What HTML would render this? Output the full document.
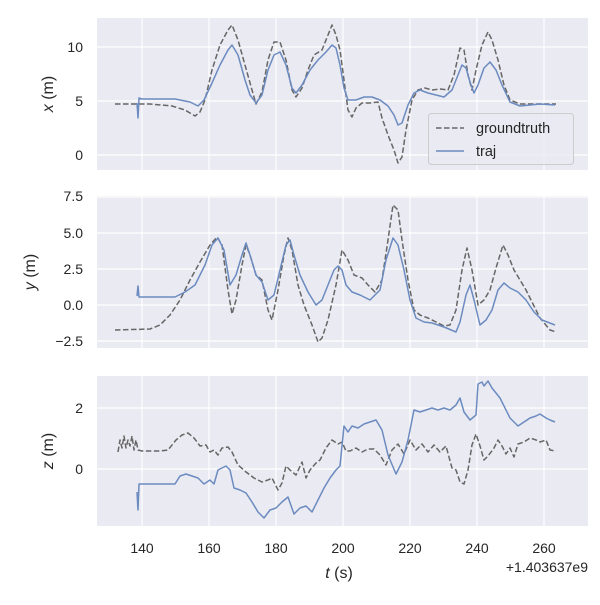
<!DOCTYPE html>
<html><head><meta charset="utf-8"><style>
body{margin:0;background:#fff}
svg text{font-family:"Liberation Sans","DejaVu Sans",sans-serif;fill:#262626}
</style></head><body>
<svg width="600" height="600" xmlns="http://www.w3.org/2000/svg">
<rect width="600" height="600" fill="#fff"/>
<g>
<rect x="97" y="18" width="491" height="152" fill="#eaeaf2"/>
<rect x="97" y="196" width="491" height="152" fill="#eaeaf2"/>
<rect x="97" y="376" width="491" height="150" fill="#eaeaf2"/>
</g>
<g stroke="#fff" stroke-width="1.2">
<path d="M142 18V170M209 18V170M276 18V170M343 18V170M410 18V170M477 18V170M544 18V170"/>
<path d="M142 196V348M209 196V348M276 196V348M343 196V348M410 196V348M477 196V348M544 196V348"/>
<path d="M142 376V526M209 376V526M276 376V526M343 376V526M410 376V526M477 376V526M544 376V526"/>
<path d="M97 47H588M97 101H588M97 155H588"/>
<path d="M97 197H588M97 233H588M97 269H588M97 305H588M97 341H588"/>
<path d="M97 408H588M97 469H588"/>
</g>
<g font-size="14" text-anchor="end">
<text x="83" y="52">10</text><text x="83" y="106">5</text><text x="83" y="160">0</text>
<text x="83" y="201">7.5</text><text x="83" y="238">5.0</text><text x="83" y="274">2.5</text><text x="83" y="310">0.0</text><text x="83" y="346">−2.5</text>
<text x="83" y="413">2</text><text x="83" y="474">0</text>
</g>
<g font-size="14" text-anchor="middle">
<text x="142" y="553">140</text><text x="209" y="553">160</text><text x="276" y="553">180</text><text x="343" y="553">200</text><text x="410" y="553">220</text><text x="477" y="553">240</text><text x="544" y="553">260</text>
<text x="339" y="578" font-size="16"><tspan font-style="italic">t</tspan> (s)</text>
</g>
<text x="588" y="572" font-size="14" text-anchor="end">+1.403637e9</text>
<g font-size="16" text-anchor="middle">
<text transform="translate(53 94) rotate(-90)"><tspan font-style="italic">x</tspan> (m)</text>
<text transform="translate(35 272) rotate(-90)"><tspan font-style="italic">y</tspan> (m)</text>
<text transform="translate(53 451) rotate(-90)"><tspan font-style="italic">z</tspan> (m)</text>
</g>
<g fill="none" stroke-width="1.5" stroke-linejoin="round">
<g stroke="#666" stroke-dasharray="5.5,2.5">
<polyline points="115,104 150,104 172,106 185,110 195,116 200,112 205,100 212,70 220,45 228,30 232,25 238,40 245,65 252,90 256,104 262,92 268,60 274,42 280,42 286,60 292,90 296,97 302,88 308,70 314,55 322,50 328,35 332,25 336,35 340,50 344,80 348,110 352,117 356,108 362,103 370,103 378,102 382,118 388,135 394,150 398,163 402,157 406,130 412,100 418,90 425,88 432,90 440,89 448,90 454,75 460,48 464,50 468,75 472,90 476,70 482,45 488,32 492,40 498,60 504,85 510,100 520,104 540,104 556,104"/>
<polyline points="115,330 150,329 160,325 170,315 180,300 190,280 200,262 210,245 217,237 222,245 228,290 232,314 236,300 242,265 246,245 250,255 256,275 262,280 268,310 272,320 278,290 284,255 288,238 292,250 298,285 304,305 312,325 318,342 322,338 328,320 336,285 342,250 348,260 354,275 362,278 368,285 375,292 382,280 388,240 393,205 398,210 402,240 408,280 414,310 420,315 428,318 436,322 444,326 450,325 456,310 462,270 467,248 472,270 478,305 484,300 490,290 496,268 503,245 508,255 514,270 520,280 526,290 532,302 540,318 550,330 556,332"/>
<polyline points="118,452 120,440 122,448 124,436 126,448 128,440 130,446 132,436 134,450 136,440 138,450 142,451 160,451 168,450 176,440 182,435 188,433 194,438 200,446 206,445 210,452 214,450 218,455 222,448 228,447 232,452 238,465 246,472 254,478 262,482 268,480 272,478 278,490 282,483 286,466 290,470 296,475 302,462 306,478 310,470 316,463 320,460 326,448 332,440 338,444 342,442 346,451 350,451 356,448 362,452 368,449 374,449 380,455 386,465 392,450 398,444 404,454 410,440 416,450 422,444 428,452 434,445 440,452 446,446 452,468 456,470 460,482 464,484 468,470 472,445 476,434 480,446 484,460 488,456 494,448 498,440 502,446 506,454 510,448 514,457 518,444 524,442 530,438 536,440 540,442 546,440 550,450 556,451"/>
</g>
<g stroke="#6b8bc0">
<polyline points="137,103 138,118 139,98 142,99 175,99 190,102 198,106 204,100 212,83 220,65 228,50 232,45 238,55 245,80 250,95 256,103 262,95 268,70 274,55 280,52 286,65 292,88 296,93 302,85 310,70 318,60 326,52 332,45 336,48 340,65 344,88 348,100 356,100 364,97 372,97 380,100 388,106 394,115 398,125 402,123 408,105 414,93 420,90 428,93 436,95 444,97 452,90 458,75 462,65 466,68 470,82 474,93 478,85 484,68 490,62 496,70 502,85 510,102 520,106 540,104 555,105"/>
<polyline points="137,296 138,286 139,297 175,297 185,292 195,285 205,265 212,245 218,238 224,250 230,285 236,275 242,255 246,243 250,255 256,275 262,282 268,300 274,295 280,270 286,245 290,240 294,255 300,275 308,292 316,305 322,300 328,285 334,270 338,266 342,270 346,285 352,292 360,295 370,300 380,290 386,260 393,238 398,245 404,270 410,300 416,318 424,322 432,323 444,327 456,332 460,322 466,295 470,285 474,300 480,325 486,320 492,310 498,290 504,283 510,288 518,292 526,300 534,312 542,320 555,325"/>
<polyline points="137,492 138,510 139,484 175,484 180,476 186,474 192,476 198,478 204,484 210,480 214,484 218,470 222,468 226,466 230,470 234,488 240,490 246,493 252,502 258,512 264,518 270,510 276,508 282,502 288,497 294,514 300,508 306,506 312,512 318,500 324,488 330,478 336,470 340,466 344,426 348,432 352,426 358,428 364,424 370,422 376,420 382,430 388,455 396,474 402,462 408,440 414,410 420,412 426,410 432,408 438,410 444,408 450,410 456,405 460,398 464,412 470,420 476,415 478,384 482,382 484,386 488,381 492,388 500,398 510,418 518,426 524,422 530,418 536,416 540,414 546,418 550,420 555,422"/>
</g>
</g>
<rect x="428.5" y="113.5" width="145" height="51" rx="3" fill="#eaeaf2" fill-opacity="0.8" stroke="#ccc"/>
<line x1="436" y1="128" x2="464" y2="128" stroke="#666" stroke-width="1.5" stroke-dasharray="5.5,2.5"/>
<line x1="436" y1="151" x2="464" y2="151" stroke="#6b8bc0" stroke-width="1.5"/>
<text x="476" y="133" font-size="14.5">groundtruth</text>
<text x="476" y="156" font-size="14.5">traj</text>
</svg>
</body></html>
